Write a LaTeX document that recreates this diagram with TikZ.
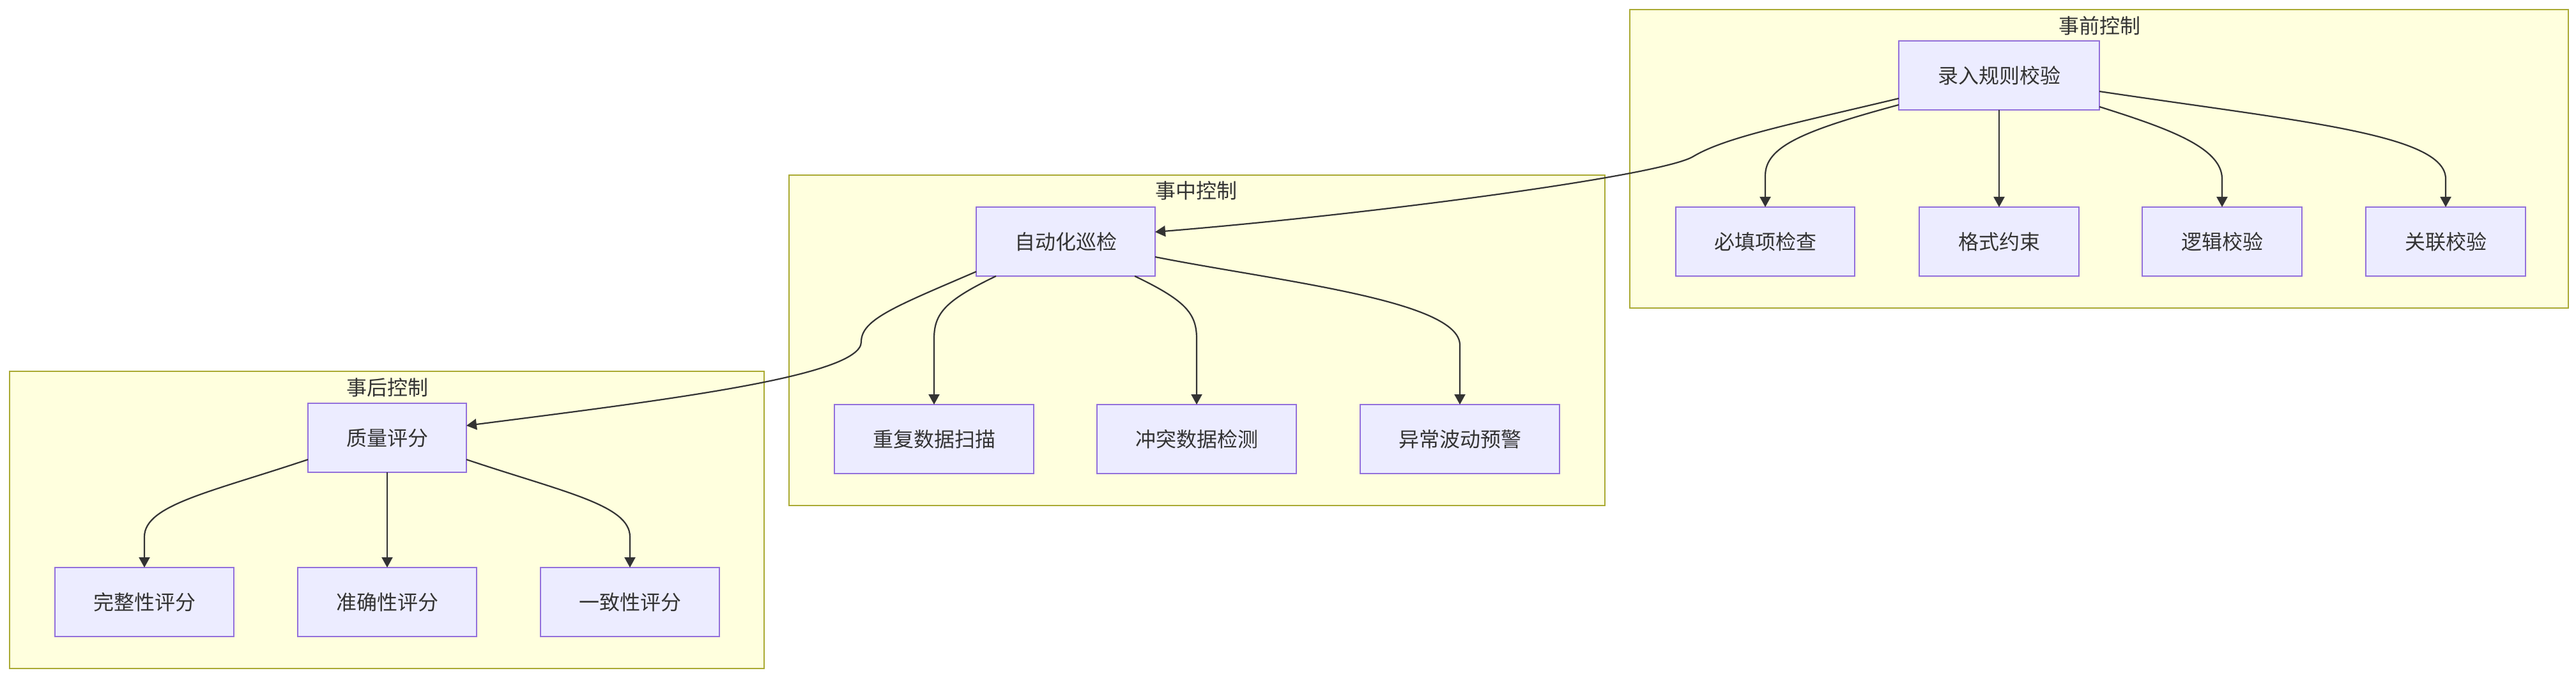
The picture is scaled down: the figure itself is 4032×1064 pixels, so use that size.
\documentclass[tikz,border=0pt]{standalone}
\usepackage{fontspec}
\setmainfont{Noto Sans CJK SC}
\usetikzlibrary{calc,arrows.meta}
\definecolor{clfill}{HTML}{FFFFDE}
\definecolor{clline}{HTML}{AAAA33}
\definecolor{ndfill}{HTML}{ECECFF}
\definecolor{ndline}{HTML}{9370DB}
\definecolor{txt}{HTML}{333333}
\begin{document}
\begin{tikzpicture}[x=0.5pt,y=-0.5pt,
  cluster/.style={draw=clline,fill=clfill,line width=1pt},
  box/.style={draw=ndline,fill=ndfill,line width=1pt,text=txt,font=\fontsize{16}{18}\selectfont,inner sep=0pt,outer sep=0pt,minimum height=54pt},
  ctitle/.style={text=txt,font=\fontsize{16}{18}\selectfont,inner sep=0pt},
  link/.style={draw=txt,line width=1.1pt,-{Triangle[length=8pt,width=8.5pt]}}]

\useasboundingbox (0,0) rectangle (4032,1064);
\fill[white] (0,0) rectangle (4032,1064);

% clusters
\draw[cluster] (2551,15) rectangle (4020,482);
\node[ctitle] (t1) at (3286,40) {事前控制};
\draw[cluster] (1235,274) rectangle (2512,791);
\node[ctitle] (t2) at (1872,298) {事中控制};
\draw[cluster] (15,581) rectangle (1196,1046);
\node[ctitle] (t3) at (606,606) {事后控制};

% nodes
\node[box,minimum width=157pt] (r) at (3129,118) {录入规则校验};
\node[box,minimum width=140pt] (n11) at (2763,378) {必填项检查};
\node[box,minimum width=125pt] (n12) at (3129,378) {格式约束};
\node[box,minimum width=125pt] (n13) at (3478,378) {逻辑校验};
\node[box,minimum width=125pt] (n14) at (3828,378) {关联校验};

\node[box,minimum width=140pt] (a) at (1668,378) {自动化巡检};
\node[box,minimum width=156pt] (n21) at (1462,687) {重复数据扫描};
\node[box,minimum width=156pt] (n22) at (1873,687) {冲突数据检测};
\node[box,minimum width=156pt] (n23) at (2285,687) {异常波动预警};

\node[box,minimum width=124pt] (q) at (606,685) {质量评分};
\node[box,minimum width=140pt] (n31) at (226,942) {完整性评分};
\node[box,minimum width=140pt] (n32) at (606,942) {准确性评分};
\node[box,minimum width=140pt] (n33) at (986,942) {一致性评分};

% links between stages
\draw[link] ($(r.west)+(0,36)$) .. controls (2800,195) and (2700,215) .. (2650,245)
  .. controls (2600,275) and (2150,335) .. ($(a.east)+(0,-15)$);
\draw[link] ($(a.west)+(0,47)$) .. controls (1400,480) and (1348,500) .. (1348,535)
  .. controls (1348,588) and (1050,625) .. ($(q.east)+(0,-19)$);

% stage 1 children
\draw[link] ($(r.west)+(0,46)$) .. controls (2820,205) and (2763,230) .. (2763,275) -- (n11.north);
\draw[link] (r.south) -- (n12.north);
\draw[link] ($(r.east)+(0,49)$) .. controls (3390,200) and (3478,230) .. (3478,280) -- (n13.north);
\draw[link] ($(r.east)+(0,25)$) .. controls (3600,190) and (3828,210) .. (3828,280) -- (n14.north);

% stage 2 children
\draw[link] ($(a.south)+(-109,0)$) .. controls (1480,470) and (1462,490) .. (1462,530) -- (n21.north);
\draw[link] ($(a.south)+(108,0)$) .. controls (1855,470) and (1873,490) .. (1873,530) -- (n22.north);
\draw[link] ($(a.east)+(0,24)$) .. controls (2000,440) and (2285,470) .. (2285,540) -- (n23.north);

% stage 3 children
\draw[link] ($(q.west)+(0,34)$) .. controls (330,770) and (226,790) .. (226,840) -- (n31.north);
\draw[link] (q.south) -- (n32.north);
\draw[link] ($(q.east)+(0,34)$) .. controls (882,770) and (986,790) .. (986,840) -- (n33.north);
\end{tikzpicture}
\end{document}
